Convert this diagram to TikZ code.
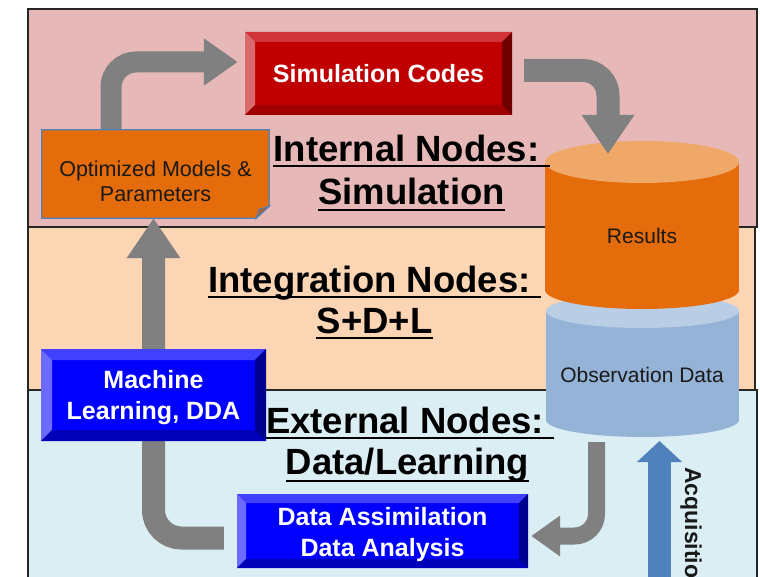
\documentclass[tikz,border=0pt]{standalone}
\usepackage{fontspec}
\setmainfont{Liberation Sans}
\usetikzlibrary{arrows.meta}

\definecolor{pinkbg}{HTML}{E6B9B8}
\definecolor{peachbg}{HTML}{FCD5B5}
\definecolor{bluebg}{HTML}{DBEEF4}
\definecolor{grayar}{HTML}{808080}
\definecolor{orng}{HTML}{E46C0A}
\definecolor{orngtop}{HTML}{F0A868}
\definecolor{obsbody}{HTML}{95B3D7}
\definecolor{obstop}{HTML}{B9CDE5}
\definecolor{acqblue}{HTML}{4F81BD}
\definecolor{foldc}{HTML}{A8602A}
\definecolor{rface}{HTML}{C00000}
\definecolor{rtop}{HTML}{D0343A}
\definecolor{rleft}{HTML}{D86A6E}
\definecolor{rbot}{HTML}{A00000}
\definecolor{rright}{HTML}{700000}
\definecolor{bface}{HTML}{0000FF}
\definecolor{btop}{HTML}{4040FF}
\definecolor{bleft}{HTML}{6B6BFF}
\definecolor{bbot}{HTML}{0000B8}
\definecolor{bright}{HTML}{000090}

\newcommand\mybevel[5]{%
 \fill[#1] (path picture bounding box.north west) -- (path picture bounding box.north east) -- ++(-#5,-#5) -- ([shift={(#5,-#5)}]path picture bounding box.north west) -- cycle;
 \fill[#2] (path picture bounding box.north west) -- ([shift={(#5,-#5)}]path picture bounding box.north west) -- ([shift={(#5,#5)}]path picture bounding box.south west) -- (path picture bounding box.south west) -- cycle;
 \fill[#3] (path picture bounding box.south west) -- ([shift={(#5,#5)}]path picture bounding box.south west) -- ([shift={(-#5,#5)}]path picture bounding box.south east) -- (path picture bounding box.south east) -- cycle;
 \fill[#4] (path picture bounding box.south east) -- ([shift={(-#5,#5)}]path picture bounding box.south east) -- ([shift={(-#5,-#5)}]path picture bounding box.north east) -- (path picture bounding box.north east) -- cycle;
}

\tikzset{
  band/.style={draw=black!85, line width=1.2pt},
  boxtext/.style={text=white, align=center, inner sep=0pt, font=\fontsize{25}{31}\selectfont\bfseries},
  redbox/.style={rectangle, inner sep=0pt, fill=rface,
     path picture={\mybevel{rtop}{rleft}{rbot}{rright}{10pt}}},
  bluebox/.style={rectangle, inner sep=0pt, fill=bface,
     path picture={\mybevel{btop}{bleft}{bbot}{bright}{#1}}},
  bluebox/.default=10pt,
  grayarrow/.style n args={4}{draw=grayar, line width=#1, rounded corners=#2,
     -{Triangle[length=#3,width=#4]}},
  headline/.style={inner sep=0pt, anchor=base, font=\fontsize{36.5}{42}\selectfont\bfseries},
  uline/.style={line width=1.8pt, black},
  cyltext/.style={inner sep=0pt, text=black!90, font=\fontsize{21}{25}\selectfont},
}

\begin{document}
\begin{tikzpicture}[x=1pt,y=-1pt]
\useasboundingbox (0,0) rectangle (760,577);
\clip (0,0) rectangle (760,577);

% bands
\fill[pinkbg] (28,9) rectangle (757,227);
\fill[peachbg] (28,227) rectangle (755,390);
\fill[bluebg] (28,390) rectangle (757,600);
\draw[band] (28,9) rectangle (757,227);
\draw[band] (28,227) rectangle (755,390);
\draw[band] (28,390) rectangle (757,600);

% cylinders
\fill[obsbody] (546,311) rectangle (739,420);
\fill[obsbody] (642.5,420) ellipse [x radius=96.5, y radius=17];
\fill[obstop] (642.5,311) ellipse [x radius=96.5, y radius=17];
\fill[orng] (545,162) rectangle (739,290);
\fill[orng] (642,290) ellipse [x radius=97, y radius=19];
\fill[orngtop] (642,162) ellipse [x radius=97, y radius=21];
\node[cyltext] (res) at (642,236) {Results};
\node[cyltext] (obs) at (642,375) {Observation Data};

% box positions
\path (378.5,73.5) coordinate (simc) (155.5,174) coordinate (optc)
      (153.5,395) coordinate (mlc) (382.5,531) coordinate (dac);
\coordinate (a2tip) at (608,154);
\coordinate (obsbot) at (596.5,442);
\coordinate (acqbot) at (659.5,590);
\coordinate (acqtip) at (659.5,441);

\node[inner sep=0pt, minimum width=267pt, minimum height=83pt] (sim) at (simc) {};
\node[inner sep=0pt, minimum width=227pt, minimum height=88pt] (opt) at (optc) {};
\node[inner sep=0pt, minimum width=225pt, minimum height=92pt] (ml) at (mlc) {};
\node[inner sep=0pt, minimum width=291pt, minimum height=74pt] (da) at (dac) {};

% arrows
\draw[grayarrow={21pt}{25pt}{34pt}{45pt}] ([xshift=-44.5pt]opt.north) |- ([xshift=-7pt,yshift=11.5pt]sim.west);
\draw[grayarrow={23pt}{25pt}{39pt}{50pt}] ([xshift=12pt,yshift=3pt]sim.east) -| (a2tip);
\draw[grayarrow={17pt}{22pt}{29pt}{39pt}] (obsbot) |- ([xshift=3pt,yshift=-5pt]da.east);
\draw[grayarrow={23pt}{28pt}{40pt}{51pt}] ([xshift=-13pt,yshift=-7pt]da.west) -| (ml.north |- opt.south);
\draw[draw=acqblue, line width=23pt, -{Triangle[length=21pt,width=44pt]}] (acqbot) -- (acqtip);
\node[rotate=-90, anchor=base west, inner sep=0pt, text=black!90, font=\fontsize{23}{27}\selectfont\bfseries] (acq) at (685,467) {Acquisition};

% beveled boxes on top of arrows
\node[redbox, minimum width=267pt, minimum height=83pt] (simb) at (simc) {};
\node[bluebox=11pt, minimum width=225pt, minimum height=92pt] (mlb) at (mlc) {};
\node[bluebox=9pt, minimum width=291pt, minimum height=74pt] (dab) at (dac) {};
\node[boxtext] (simt) at (simb.center) {Simulation Codes};
\node[boxtext] (mlt) at ([yshift=-3pt]mlb.center) {Machine\\Learning, DDA};
\node[boxtext] (dat) at ([yshift=-3.5pt]dab.center) {Data Assimilation\\Data Analysis};

% optimized box with folded corner
\filldraw[fill=orng, draw=acqblue, line width=1.2pt] (opt.north west) -- (opt.north east) -- ([yshift=12pt]opt.south east) -- ([xshift=-13pt]opt.south east) -- (opt.south west) -- cycle;
\filldraw[fill=foldc, draw=acqblue, line width=1pt] ([yshift=12pt]opt.south east) -- ([xshift=-13pt]opt.south east) -- ([xshift=-10pt,yshift=9pt]opt.south east) -- cycle;
\node[align=center, text=black!90, font=\fontsize{21.5}{25}\selectfont] (optt) at ([yshift=-7pt]optc) {Optimized Models \&\\Parameters};

% headings
\node[headline] (h1a) at (406.5,162) {Internal Nodes:};
\node[headline] (h1b) at (411.5,205) {Simulation};
\node[headline] (h2a) at (369.5,292) {Integration Nodes:};
\node[headline] (h2b) at (374.5,333) {S+D+L};
\node[headline] (h3a) at (405,433) {External Nodes:};
\node[headline] (h3b) at (407.5,474) {Data/Learning};
\draw[uline] ([yshift=-4pt]h1a.base west) -- ([xshift=10pt,yshift=-4pt]h1a.base east);
\draw[uline] ([yshift=-5pt]h1b.base west) -- ([yshift=-5pt]h1b.base east);
\draw[uline] ([yshift=-5pt]h2a.base west) -- ([xshift=10pt,yshift=-5pt]h2a.base east);
\draw[uline] ([yshift=-5pt]h2b.base west) -- ([yshift=-5pt]h2b.base east);
\draw[uline] ([yshift=-5pt]h3a.base west) -- ([xshift=10pt,yshift=-5pt]h3a.base east);
\draw[uline] ([yshift=-7pt]h3b.base west) -- ([yshift=-7pt]h3b.base east);
\end{tikzpicture}
\end{document}
